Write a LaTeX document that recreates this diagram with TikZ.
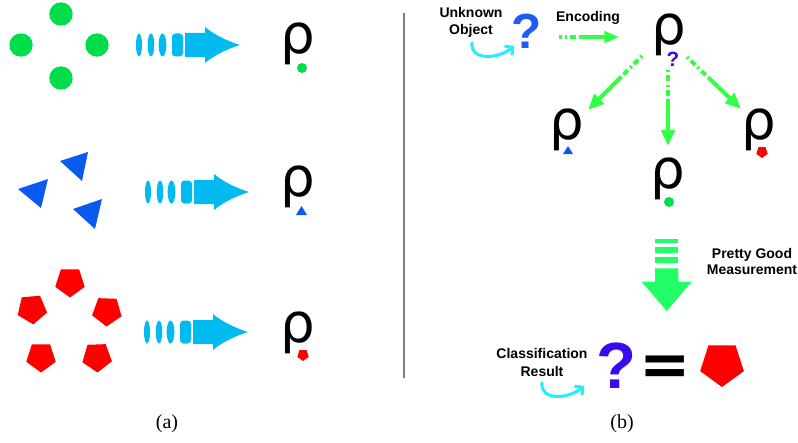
\documentclass[tikz,border=0pt]{standalone}
\usepackage{fontspec}
\setmainfont{Liberation Serif}
\newfontfamily\lsans{Liberation Sans}
\newfontfamily\dvs{DejaVu Sans}
\usetikzlibrary{arrows.meta}
\definecolor{dotgreen}{HTML}{00DD4A}
\definecolor{triblue}{HTML}{0A5AEE}
\definecolor{pred}{HTML}{FF0000}
\definecolor{arrcyan}{HTML}{00BAF0}
\definecolor{encgreen}{HTML}{33FF44}
\definecolor{pgmgreen}{HTML}{22FF66}
\definecolor{hookcyan}{HTML}{22EEFF}
\definecolor{qblue}{HTML}{1F5CF0}
\definecolor{qviolet}{HTML}{3A0AEE}
\definecolor{divgray}{HTML}{808080}
\tikzset{
  rho/.style={inner sep=0pt, anchor=base, font=\dvs\fontsize{41}{41}\selectfont},
  lbl/.style={inner sep=0pt, anchor=base, align=center, font=\lsans\bfseries\fontsize{10.5}{13}\selectfont},
  capt/.style={inner sep=0pt, anchor=base, font=\fontsize{15}{18}\selectfont},
  qmark/.style={inner sep=0pt, anchor=base, font=\lsans\bfseries},
  greenflow/.style={draw=encgreen, line width=3pt,
    -{Triangle[length=12pt,width=10pt]}},
  encflow/.style={greenflow, dash pattern=on 2pt off 2.2pt on 2pt off 2.2pt on 4.5pt off 2pt on 200pt,
    -{Triangle[length=11pt,width=8.5pt]}},
  branchflow/.style={greenflow, dash pattern=on 1.5pt off 2.5pt on 4.5pt off 2.5pt on 1.5pt off 2.5pt on 4.5pt off 2.5pt on 200pt},
  hook/.style={draw=hookcyan, line width=2.3pt, line cap=round,
    -{Straight Barb[length=4pt,width=9pt,line width=2.3pt]}},
}
\newcommand\myFancyArrow[2]{%
  \begin{scope}[shift={(#1,#2)}]
    \fill[arrcyan] (139,0) ellipse [x radius=3, y radius=11.5];
    \fill[arrcyan] (151,0) ellipse [x radius=3.3, y radius=11.5];
    \fill[arrcyan] (162.5,0) ellipse [x radius=3.9, y radius=11.5];
    \fill[arrcyan, rounded corners=2.5pt] (172,-11.5) rectangle (183,11.5);
    \fill[arrcyan] (185,-12) -- (205,-12) -- (205,-18)
       .. controls (213,-11) and (227,-4) .. (240,0)
       .. controls (227,4) and (213,11) .. (205,18)
       -- (205,12) -- (185,12) -- cycle;
  \end{scope}}
\newcommand\myPent[4]{%
  \fill[pred, shift={(#1,#2)}] ({#4}:#3) -- ({#4+72}:#3) -- ({#4+144}:#3)
     -- ({#4+216}:#3) -- ({#4+288}:#3) -- cycle;}
\begin{document}
\begin{tikzpicture}[x=0.75pt,y=-0.75pt]
\useasboundingbox (0,0) rectangle (798,442);

% ---------- panel (a) ----------
% row 1: green dots
\fill[dotgreen] (61,14) circle (11.7);
\fill[dotgreen] (21,45) circle (11.7);
\fill[dotgreen] (97,45) circle (11.7);
\fill[dotgreen] (61,78) circle (11.7);
\myFancyArrow{0}{45}
\node[rho] (ra1) at (298,54) {ρ};
\fill[dotgreen] (302,68) circle (5);

% row 2: blue triangles
\fill[triblue] (60,161) -- (88,152) -- (82,181) -- cycle;
\fill[triblue] (18,189) -- (48,179) -- (41,208) -- cycle;
\fill[triblue] (73,209) -- (102,199) -- (95,229) -- cycle;
\myFancyArrow{9}{192}
\node[rho] (ra2) at (298,196) {ρ};
\fill[triblue] (296,215) -- (307,215) -- (301.5,206) -- cycle;

% row 3: red pentagons
\myPent{70}{282}{15.5}{90}
\myPent{32}{309}{15.5}{85}
\myPent{107}{311}{15.5}{92}
\myPent{41}{357}{15.5}{90}
\myPent{97}{357}{15.5}{88}
\myFancyArrow{8}{332}
\node[rho] (ra3) at (298,342) {ρ};
\myPent{303}{355}{6}{90}

\node[capt] (capa) at (167,428) {(a)};

% divider
\draw[divgray, line width=1.5pt] (404,13) -- (404,378);

% ---------- panel (b) ----------
\node[lbl] (unk) at (471,35) {Unknown\\Object};
\node[qmark, text=qblue, font=\lsans\bfseries\fontsize{37}{37}\selectfont] (q1) at (527,49) {?};
\coordinate (h1s) at (472,43);
\coordinate (h1e) at (514,46);
\draw[hook] (h1s) .. controls (470,60) and (497,60) .. (h1e);

\node[lbl] (enc) at (588,22) {Encoding};
\coordinate (encs) at (559,37);
\coordinate (ence) at (619,37);
\draw[encflow] (encs) -- (ence);

\node[rho] (rtop) at (669,45) {ρ};
\node[qmark, text=qviolet, font=\lsans\bfseries\fontsize{15.5}{15.5}\selectfont] (qs) at (673,67) {?};

\coordinate (bls) at (642,56);
\coordinate (ble) at (588,110);
\coordinate (bms) at (668,70);
\coordinate (bme) at (668,146);
\coordinate (brs) at (687,57);
\coordinate (bre) at (741,109);
\draw[branchflow] (bls) -- (ble);
\draw[branchflow] (bms) -- (bme);
\draw[branchflow] (brs) -- (bre);

\node[rho] (rl) at (567,139) {ρ};
\fill[triblue] (563,154) -- (573,154) -- (568,146) -- cycle;
\node[rho] (rm) at (668,188) {ρ};
\fill[dotgreen] (669,202) circle (5);
\node[rho] (rr) at (759,139) {ρ};
\myPent{762}{152}{6}{90}

% pretty good measurement arrow
\fill[pgmgreen] (655,239.3) rectangle (678.3,242.7);
\fill[pgmgreen] (655,247.3) rectangle (678.3,253.3);
\fill[pgmgreen] (655,257.3) rectangle (678.3,263.3);
\fill[pgmgreen] (655,268.3) -- (678.3,268.3) -- (678.3,281.7) -- (691.7,281.7)
   -- (666.7,311) -- (641.7,281.7) -- (655,281.7) -- cycle;
\node[lbl, font=\lsans\bfseries\fontsize{10.5}{12}\selectfont] (pgm) at (752,274) {Pretty Good\\Measurement};

% classification result
\node[lbl, font=\lsans\bfseries\fontsize{10.5}{13.5}\selectfont] (cls) at (542,376) {Classification\\Result};
\coordinate (h2s) at (542,383);
\coordinate (h2e) at (584,386);
\draw[hook] (h2s) .. controls (540,400) and (567,400) .. (h2e);
\node[qmark, text=qviolet, font=\lsans\bfseries\fontsize{49}{49}\selectfont] (q2) at (616,388) {?};
\node[inner sep=0pt, anchor=base, font=\dvs\bfseries\fontsize{46}{46}\selectfont] (eq) at (665,385) {=};
\myPent{722}{364}{23}{90}

\node[capt] (capb) at (622,428) {(b)};
\end{tikzpicture}
\end{document}
